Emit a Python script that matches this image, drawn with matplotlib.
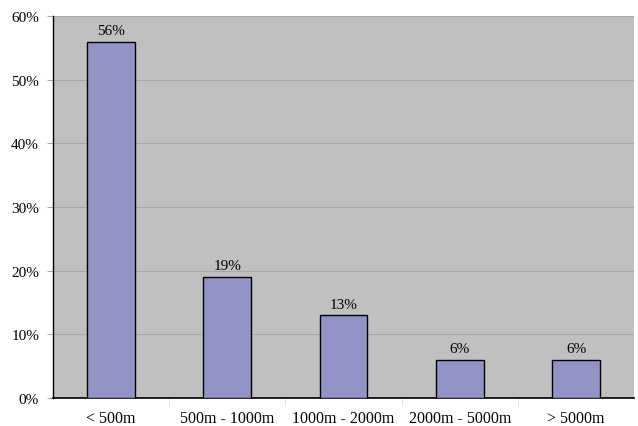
import matplotlib
matplotlib.use('Agg')
import matplotlib.pyplot as plt

categories = ['< 500m', '500m - 1000m', '1000m - 2000m', '2000m - 5000m', '> 5000m']
shares = [56, 19, 13, 6, 6]

plt.rcParams['font.family'] = ['Liberation Serif', 'DejaVu Serif']

fig = plt.figure(figsize=(6.38, 4.27), dpi=100)
ax = fig.add_axes([0.083, 0.066, 0.911, 0.894])
ax.set_facecolor('#C0C0C0')

x = list(range(len(categories)))
bars = ax.bar(x, shares, width=0.41, color='#9393C6', edgecolor='black', linewidth=1, zorder=3)
for b, v in zip(bars, shares):
	ax.text(b.get_x() + b.get_width() / 2, v + 0.7, f'{v}%', ha='center', va='bottom', fontsize=11)

ax.set_xlim(-0.5, len(categories) - 0.5)
ax.set_ylim(0, 60)
ax.set_yticks(range(0, 61, 10))
ax.set_yticklabels([f'{t}%' for t in range(0, 61, 10)], fontsize=11)
ax.yaxis.grid(True, color='#A8A8A8', linewidth=0.8, zorder=0)

ax.set_xticks(x)
ax.set_xticklabels(categories, fontsize=11.5)
ax.tick_params(axis='x', length=0, pad=9)
ax.set_xticks([i - 0.5 for i in range(1, len(categories))], minor=True)
ax.tick_params(axis='x', which='minor', length=5, color='#DDDDDD')
ax.tick_params(axis='y', length=4, color='#AAAAAA', pad=6)

for side in ['top', 'right']:
	ax.spines[side].set_visible(False)
ax.spines['left'].set_color('black')
ax.spines['bottom'].set_color('black')
ax.spines['left'].set_linewidth(1)
ax.spines['bottom'].set_linewidth(1.2)

fig.savefig('out.png', dpi=100)
